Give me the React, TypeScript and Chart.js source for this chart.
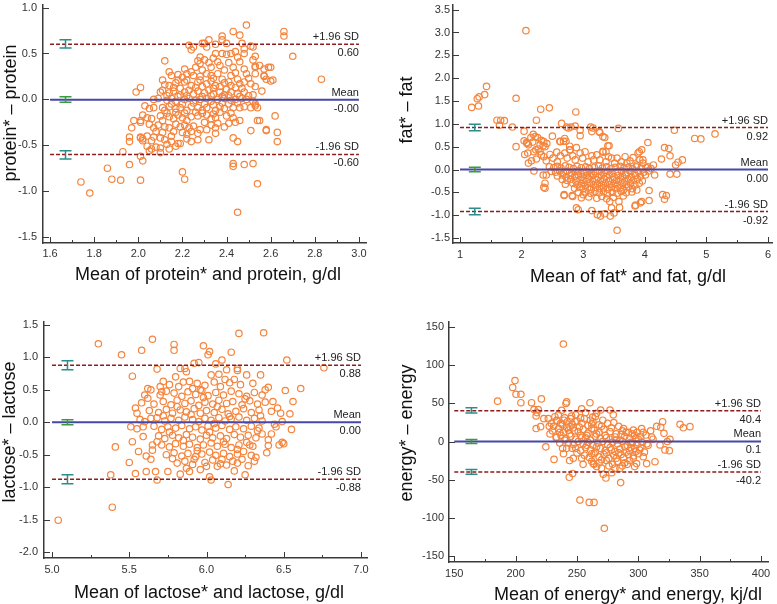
import React, { useEffect, useRef } from "react";
import { Chart, registerables } from "chart.js";

Chart.register(...registerables);

type Pt = [number, number];

// ---------------- DATA ----------------
const proteinPoints: Pt[] = [
  [1.74,-0.90],[1.78,-1.02],[1.86,-0.75],[1.88,-0.87],[1.92,-0.88],[1.93,-0.57],[1.96,-0.71],[1.96,-0.41],[1.96,-0.46],[1.97,-0.31],
  [1.98,-0.23],[1.99,0.08],[2.01,0.13],[2.01,-0.88],[2.01,-0.62],[2.02,-0.67],[2.01,-0.42],[2.02,-0.43],[2.01,-0.23],[2.20,-0.79],
  [2.21,-0.87],[2.45,-1.23],[2.43,-0.70],[2.43,-0.73],[2.43,-0.42],[2.45,-0.46],[2.48,-0.71],[2.52,-0.70],[2.54,-0.92],[2.54,-0.23],
  [2.58,-0.34],[2.62,-0.18],[2.63,-0.46],[2.63,-0.36],[2.83,0.22],[2.70,0.47],[2.66,0.74],[2.66,0.69],[2.49,0.81],[2.43,0.74],
  [2.46,0.70],[2.38,0.69],[2.32,0.65],[2.29,0.61],[2.23,0.59],[2.25,0.57],[2.12,0.42],[2.59,0.35],[2.57,0.25],[2.60,0.20],
  [2.56,0.09],[2.52,0.43],[2.51,0.58],[2.53,0.35],[2.53,-0.05],[2.54,-0.09],[2.51,-0.34],
  [2.38,0.65],[2.30,0.61],[2.35,0.60],[2.24,0.54],[2.31,0.57],[2.40,0.61],[2.47,0.61],[2.48,0.55],[2.48,0.50],[2.52,0.57],
  [2.35,0.50],[2.38,0.50],[2.40,0.49],[2.42,0.50],[2.44,0.52],[2.45,0.46],[2.53,0.47],
  [2.27,0.42],[2.28,0.39],[2.30,0.43],[2.32,0.40],[2.33,0.35],[2.37,0.37],[2.41,0.40],[2.43,0.35],[2.46,0.41],[2.48,0.33],
  [2.53,0.36],[2.55,0.37],[2.57,0.33],[2.60,0.35],
  [2.14,0.30],[2.15,0.26],[2.20,0.24],[2.22,0.28],[2.24,0.30],[2.25,0.26],[2.29,0.32],[2.31,0.28],[2.33,0.26],[2.36,0.28],
  [2.39,0.32],[2.42,0.26],[2.44,0.29],[2.45,0.22],[2.49,0.28],[2.50,0.23],[2.53,0.28],[2.57,0.26],[2.58,0.22],[2.61,0.21],
  [2.11,0.21],[2.12,0.16],[2.14,0.15],[2.17,0.18],[2.18,0.21],[2.21,0.19],[2.22,0.21],[2.27,0.19],[2.28,0.21],[2.31,0.17],
  [2.33,0.20],[2.35,0.15],[2.39,0.18],[2.41,0.19],[2.42,0.15],[2.46,0.17],[2.48,0.19],[2.51,0.17],[2.53,0.14],
  [2.10,0.08],[2.11,0.10],[2.14,0.07],[2.16,0.09],[2.19,0.05],[2.21,0.08],[2.23,0.10],[2.25,0.06],[2.27,0.09],[2.30,0.07],
  [2.32,0.10],[2.34,0.06],[2.37,0.08],[2.39,0.05],[2.42,0.08],[2.45,0.06],[2.48,0.08],[2.50,0.04],[2.52,0.05],
  [2.07,0.00],[2.09,0.01],[2.13,-0.01],[2.15,0.01],[2.17,-0.02],[2.21,0.00],[2.23,0.01],[2.26,-0.01],[2.28,0.00],[2.31,0.01],
  [2.33,-0.02],[2.36,0.00],[2.39,0.01],[2.42,-0.01],[2.44,0.00],[2.47,0.01],[2.49,0.00],[2.52,-0.02],[2.53,-0.07],
  [2.03,-0.07],[2.05,-0.10],[2.07,-0.09],[2.11,-0.09],[2.12,-0.12],[2.14,-0.08],[2.17,-0.10],[2.19,-0.09],[2.22,-0.12],[2.24,-0.08],
  [2.27,-0.09],[2.29,-0.12],[2.31,-0.09],[2.35,-0.12],[2.37,-0.08],[2.39,-0.10],[2.43,-0.09],[2.46,-0.09],[2.48,-0.08],[2.51,-0.09],
  [2.02,-0.17],[2.04,-0.20],[2.06,-0.21],[2.10,-0.18],[2.11,-0.23],[2.14,-0.19],[2.16,-0.21],[2.18,-0.17],[2.20,-0.20],[2.22,-0.23],
  [2.24,-0.19],[2.27,-0.18],[2.31,-0.17],[2.33,-0.21],[2.35,-0.20],[2.40,-0.18],[2.43,-0.20],[2.46,-0.23],
  [2.01,-0.25],[2.05,-0.27],[2.07,-0.31],[2.09,-0.28],[2.12,-0.30],[2.14,-0.31],[2.17,-0.27],[2.19,-0.30],[2.21,-0.28],[2.23,-0.31],
  [2.25,-0.29],[2.28,-0.33],[2.31,-0.33],[2.35,-0.31],[2.44,-0.25],[2.55,-0.23],[2.58,-0.33],
  [2.01,-0.41],[2.02,-0.45],[2.04,-0.40],[2.06,-0.45],[2.07,-0.41],[2.10,-0.42],[2.12,-0.44],[2.15,-0.40],[2.18,-0.48],[2.22,-0.43],
  [2.22,-0.38],[2.04,-0.51],[2.06,-0.54],[2.08,-0.52],[2.10,-0.53],[2.13,-0.49],[2.14,-0.54],[2.17,-0.51],[2.19,-0.48],
  [2.16,0.13],[2.19,0.12],[2.24,0.15],[2.26,0.13],[2.29,0.14],[2.34,0.12],[2.37,0.14],[2.40,0.11],[2.44,0.13],[2.47,0.12],
  [2.13,0.04],[2.18,0.03],[2.22,0.04],[2.29,0.03],[2.33,0.04],[2.38,0.03],[2.41,0.04],[2.46,0.03],
  [2.15,-0.05],[2.20,-0.05],[2.25,-0.04],[2.30,-0.05],[2.34,-0.06],[2.38,-0.04],[2.41,-0.05],[2.45,-0.04],
  [2.13,-0.15],[2.17,-0.14],[2.21,-0.15],[2.26,-0.14],[2.29,-0.15],[2.34,-0.16],[2.37,-0.14],[2.42,-0.15],
  [2.08,-0.35],[2.11,-0.36],[2.16,-0.35],[2.20,-0.36],[2.24,-0.35],[2.27,-0.37],[2.30,-0.25],[2.36,-0.26],[2.33,-0.28],
  [2.28,0.46],[2.34,0.45],[2.36,0.41],[2.26,0.35],[2.21,0.33],[2.18,0.27],[2.38,0.22],[2.34,0.23],[2.28,0.25],
  [2.05,-0.56],[2.10,-0.58],[2.15,-0.46],[2.24,-0.46],[2.27,-0.44],[2.32,-0.44],[2.35,-0.37],[2.39,-0.30],[2.41,-0.26],
];

const fatPoints: Pt[] = [
  [2.07,3.04],[1.19,1.36],[1.30,1.39],[1.28,1.55],[1.31,1.59],[1.40,1.64],[1.43,1.82],[1.91,1.56],[2.31,1.32],[2.45,1.35],
  [2.88,1.26],[1.60,1.08],[1.66,1.08],[1.72,1.07],[1.64,0.97],[1.85,0.93],[2.24,1.08],[2.65,1.01],[2.73,0.93],[2.80,0.93],
  [3.12,0.93],[3.16,0.91],[3.57,0.90],[4.48,0.86],[4.81,0.68],[4.91,0.67],[5.14,0.78],[1.91,0.50],[2.04,0.84],[2.04,0.63],
  [2.08,0.59],[2.05,0.33],[2.10,0.36],[2.11,0.14],[2.19,0.77],[2.26,0.70],[2.20,-0.03],[2.32,0.64],[2.35,0.52],[2.36,0.61],
  [2.38,-0.30],[2.38,-0.41],[2.50,0.73],[2.62,0.62],[2.68,0.62],[2.70,0.68],[2.69,-0.57],[2.82,-0.57],[2.95,0.74],[2.97,-0.62],
  [2.89,-0.84],[2.92,-0.88],[3.14,-0.90],[3.28,-1.02],[3.26,0.83],[3.32,0.72],[3.40,0.52],[3.43,-0.70],[3.44,-1.02],[3.50,-0.95],
  [3.55,-1.33],[3.58,-0.70],[3.89,0.36],[3.95,0.43],[3.97,0.21],[4.05,0.59],[3.85,-0.78],[3.93,-0.73],[4.07,-0.46],[4.07,-0.68],
  [4.16,-0.12],[4.27,0.23],[4.32,0.48],[4.39,0.46],[4.41,0.30],[4.41,-0.10],[4.32,-0.65],[4.35,-0.57],[4.50,0.10],[4.52,-0.10],
  [4.54,0.16],[4.61,0.21],
  [2.09,0.57],[2.15,0.70],[2.22,0.72],[2.11,0.54],[2.18,0.60],[2.20,0.39],[2.27,0.45],[2.30,0.54],[2.32,0.32],[2.38,0.50],
  [2.41,0.57],[2.16,0.19],[2.24,0.23],[2.23,0.43],[2.30,0.39],[2.35,-0.12],[2.40,-0.12],[2.36,-0.39],
  [2.36,0.28],[2.40,0.19],[2.46,0.33],[2.51,0.25],[2.57,0.38],[2.58,0.17],[2.63,0.30],[2.70,0.36],[2.74,0.25],[2.78,0.43],
  [2.83,0.30],[2.89,0.48],[2.87,0.21],[2.95,0.36],[2.99,0.25],[3.03,0.39],[3.08,0.17],[3.14,0.30],[3.17,0.21],[3.22,0.32],
  [3.27,0.21],[3.32,0.38],[3.37,0.17],[3.41,0.28],[3.46,0.25],[3.51,0.14],[3.55,0.25],[3.62,0.17],[3.68,0.28],[3.71,0.14],
  [3.76,0.19],[3.81,0.26],[3.87,0.10],[3.92,0.21],[3.97,0.14],[4.05,0.06],[4.14,0.10],
  [2.76,0.91],[2.87,0.95],[2.95,0.86],[2.63,0.61],[2.72,0.62],[2.78,0.51],[2.79,0.43],[3.14,0.83],[3.27,0.81],[3.35,0.70],
  [3.42,0.52],[3.32,0.40],[3.37,0.39],[3.91,0.39],[4.29,-0.55],[2.69,-0.55],[2.83,-0.59],[3.00,-0.55],[3.23,-0.99],[3.35,-0.97],
  [3.46,-0.84],[3.59,-0.83],[3.84,-0.80],[3.95,-0.70],
  [2.45,0.06],[2.52,0.04],[2.58,0.07],[2.64,0.03],[2.71,0.08],[2.77,0.05],[2.84,0.02],[2.90,0.07],[2.97,0.04],[3.04,0.06],
  [3.10,0.02],[3.18,0.05],[3.25,0.08],[3.31,0.03],[3.38,0.06],[3.45,0.02],[3.52,0.05],[3.60,0.07],[3.66,0.03],[3.73,0.05],
  [3.80,0.02],[3.86,0.06],[3.94,0.03],[4.02,0.04],[4.10,0.02],
  [2.48,-0.04],[2.55,-0.06],[2.62,-0.03],[2.68,-0.07],[2.74,-0.04],[2.81,-0.08],[2.87,-0.05],[2.93,-0.03],[3.00,-0.07],[3.06,-0.04],
  [3.13,-0.08],[3.20,-0.05],[3.27,-0.03],[3.34,-0.07],[3.40,-0.04],[3.47,-0.08],[3.55,-0.05],[3.62,-0.03],[3.69,-0.07],[3.76,-0.04],
  [3.83,-0.08],[3.90,-0.05],[3.98,-0.06],[4.06,-0.03],
  [2.58,-0.14],[2.66,-0.12],[2.72,-0.16],[2.79,-0.13],[2.86,-0.15],[2.92,-0.12],[2.98,-0.16],[3.05,-0.13],[3.11,-0.15],[3.17,-0.12],
  [3.24,-0.17],[3.30,-0.13],[3.37,-0.15],[3.43,-0.12],[3.50,-0.16],[3.57,-0.13],[3.64,-0.15],[3.70,-0.12],[3.78,-0.16],[3.85,-0.13],
  [3.93,-0.15],[4.01,-0.12],
  [2.66,-0.22],[2.74,-0.24],[2.80,-0.21],[2.88,-0.25],[2.95,-0.22],[3.01,-0.24],[3.08,-0.21],[3.15,-0.25],[3.21,-0.22],[3.28,-0.24],
  [3.34,-0.21],[3.41,-0.25],[3.48,-0.22],[3.54,-0.24],[3.61,-0.21],[3.67,-0.25],[3.74,-0.22],[3.81,-0.24],[3.88,-0.21],[3.96,-0.25],
  [2.71,-0.32],[2.83,-0.30],[2.90,-0.33],[2.97,-0.31],[3.03,-0.34],[3.10,-0.30],[3.17,-0.33],[3.23,-0.31],[3.30,-0.34],[3.36,-0.30],
  [3.43,-0.33],[3.50,-0.31],[3.56,-0.34],[3.63,-0.30],[3.70,-0.33],[3.77,-0.31],[3.84,-0.34],[3.91,-0.30],
  [2.86,-0.41],[2.94,-0.39],[3.00,-0.42],[3.07,-0.40],[3.13,-0.43],[3.20,-0.39],[3.27,-0.42],[3.33,-0.40],[3.40,-0.43],[3.46,-0.39],
  [3.53,-0.42],[3.60,-0.40],[3.66,-0.44],[3.73,-0.39],[3.80,-0.42],[3.87,-0.45],
  [2.92,-0.50],[3.04,-0.49],[3.12,-0.52],[3.19,-0.48],[3.26,-0.51],[3.33,-0.49],[3.39,-0.53],[3.47,-0.50],[3.55,-0.52],[3.62,-0.48],
  [3.70,-0.51],[3.79,-0.49],[3.09,-0.60],[3.22,-0.63],[3.30,-0.59],[3.38,-0.64],[3.49,-0.61],[3.65,-0.58],
];

const lactosePoints: Pt[] = [
  [5.04,-1.51],[5.39,-1.31],[5.41,-0.38],[5.38,-0.81],[5.30,1.21],[5.45,1.04],[5.58,1.11],[5.65,1.28],[5.52,0.71],[5.50,-0.62],
  [5.52,-0.30],[5.51,-0.07],[5.54,0.22],[5.55,0.14],[5.54,-0.79],[5.60,0.42],[5.62,0.52],[5.64,0.50],[5.62,0.37],[5.59,-0.07],
  [5.60,0.01],[5.59,-0.22],[5.61,-0.76],[5.67,-0.76],[5.61,-0.52],[5.64,-0.57],[5.68,0.82],[5.79,1.20],[5.79,1.11],[5.65,-0.35],
  [5.65,-0.43],[5.68,-0.89],[5.75,-0.76],[5.72,0.63],[5.71,0.47],[5.83,0.83],[5.86,0.83],[5.92,0.91],[5.95,0.92],[5.98,1.18],
  [6.02,1.09],[6.01,1.04],[6.16,1.08],[6.21,1.37],[6.37,1.38],[6.52,0.96],[6.76,0.84],[6.61,0.52],[6.56,0.32],[6.51,0.49],
  [6.54,0.13],[6.48,0.14],[6.49,0.01],[6.55,-0.11],[6.47,-0.35],[6.49,-0.31],[6.50,-0.33],[6.45,-0.07],[6.44,-0.03],[6.40,-0.27],
  [6.40,-0.36],[6.39,-0.47],[6.25,-0.81],[6.32,-0.54],[6.14,-0.96],[6.03,-0.89],[6.02,-0.84],[5.89,-0.76],[5.87,-0.71],[5.96,-0.73],
  [6.07,-0.68],[6.13,-0.66],[6.20,-0.63],[6.27,-0.67],[6.20,0.83],[6.20,0.80],[6.26,0.73],[6.35,0.73],[6.38,0.50],[6.40,0.54],
  [6.06,0.90],[6.10,0.96],[6.13,0.81],[5.89,0.63],[5.91,0.52],
  [5.76,0.58],[5.82,0.55],[5.94,0.60],[5.99,0.57],[6.05,0.62],[6.09,0.55],[6.15,0.61],[6.22,0.58],[6.30,0.60],[6.18,0.66],
  [6.03,0.73],[5.80,0.70],[5.87,0.78],[6.08,0.74],
  [5.70,0.42],[5.74,0.48],[5.79,0.45],[5.84,0.40],[5.88,0.47],[5.93,0.43],[5.97,0.49],[6.01,0.41],[6.06,0.46],[6.11,0.42],
  [6.16,0.48],[6.21,0.44],[6.26,0.40],[6.31,0.46],[6.36,0.42],
  [5.66,0.28],[5.72,0.32],[5.77,0.27],[5.81,0.34],[5.86,0.29],[5.90,0.33],[5.95,0.26],[5.99,0.31],[6.04,0.28],[6.08,0.34],
  [6.13,0.29],[6.17,0.32],[6.23,0.27],[6.28,0.33],[6.33,0.28],[6.38,0.31],
  [5.63,0.18],[5.69,0.15],[5.74,0.20],[5.78,0.14],[5.83,0.19],[5.87,0.16],[5.92,0.21],[5.96,0.14],[6.00,0.18],[6.05,0.15],
  [6.10,0.20],[6.14,0.13],[6.19,0.17],[6.24,0.21],[6.29,0.15],[6.34,0.19],[6.42,0.17],
  [5.57,0.04],[5.68,0.07],[5.73,0.02],[5.77,0.06],[5.82,0.03],[5.86,0.08],[5.91,0.04],[5.95,0.01],[5.99,0.06],[6.03,0.03],
  [6.08,0.07],[6.12,0.02],[6.16,0.05],[6.21,0.08],[6.26,0.03],[6.31,0.06],[6.36,0.02],
  [5.55,-0.10],[5.66,-0.06],[5.71,-0.11],[5.75,-0.07],[5.80,-0.09],[5.84,-0.05],[5.89,-0.10],[5.93,-0.07],[5.97,-0.12],[6.01,-0.06],
  [6.06,-0.09],[6.10,-0.05],[6.15,-0.11],[6.19,-0.07],[6.24,-0.10],[6.29,-0.06],[6.34,-0.09],
  [5.69,-0.21],[5.73,-0.25],[5.78,-0.20],[5.82,-0.24],[5.87,-0.19],[5.91,-0.23],[5.96,-0.26],[6.00,-0.20],[6.04,-0.24],[6.09,-0.21],
  [6.13,-0.25],[6.18,-0.19],[6.22,-0.23],[6.27,-0.20],[6.32,-0.24],[6.36,-0.18],
  [5.71,-0.35],[5.76,-0.38],[5.80,-0.33],[5.85,-0.37],[5.89,-0.34],[5.94,-0.39],[5.98,-0.35],[6.03,-0.32],[6.07,-0.37],[6.12,-0.34],
  [6.16,-0.39],[6.21,-0.35],[6.26,-0.31],[6.30,-0.37],
  [5.74,-0.50],[5.79,-0.47],[5.84,-0.52],[5.88,-0.48],[5.93,-0.53],[5.97,-0.49],[6.02,-0.46],[6.06,-0.51],[6.11,-0.48],[6.15,-0.53],
  [6.20,-0.49],[6.24,-0.45],[6.29,-0.51],
  [5.81,-0.63],[5.86,-0.60],[5.91,-0.65],[5.99,-0.62],[6.04,-0.58],[6.09,-0.64],[6.17,-0.60],[6.23,-0.57],
  [5.72,0.10],[5.76,-0.15],[5.81,0.24],[5.85,-0.28],[5.90,0.12],[5.94,-0.44],[5.98,0.38],[6.02,-0.15],[6.07,0.24],[6.11,-0.30],
  [6.15,0.09],[6.20,-0.42],[6.25,0.36],[6.05,-0.02],[5.96,0.50],[5.85,0.62],[6.12,0.66],[5.78,-0.56],[6.00,-0.68],[6.10,-0.57],
  [5.92,-0.57],[6.28,-0.35],[6.33,-0.13],[6.35,0.10],[5.68,-0.30],[5.64,0.06],[5.70,0.55],[6.42,-0.18],[6.43,0.32],[5.58,0.30],
  [5.56,-0.45],[6.46,0.22],[6.31,-0.60],[5.83,-0.80],[6.18,-0.75],
];

const energyPoints: Pt[] = [
  [238.9,128],[199.5,80],[197.6,71],[200.3,62],[204.3,62],[204.3,51],[185.3,53],[213,51],[221,56],[215,42],
  [218.5,42],[216.7,33.5],[217.3,38],[216.7,17],[220.4,19.5],[223,30],[224.6,-7],[226.6,30],[227.4,20],[231.3,-23.5],
  [232,32.6],[233.4,28],[234.8,35],[233.4,6],[237.5,41],[236.7,24],[239.4,28],[241,50],[241.6,52],[241.6,18.6],
  [238.3,-9],[241.6,-9],[243.7,-47],[246.5,-42],[247,-22],[244.3,19.5],[245.6,33.5],[248.4,26],[252.4,-77],[253.8,-22],
  [260,-80],[263.9,-80],[260.6,51],[253.8,43],[266,37],[269.3,41.4],[262.8,32],[262,23],[263.3,-29],[263.9,-30],
  [271.5,-43],[273.6,-48],[272.3,-114],[276.9,41.4],[279.6,35],[278.3,-41],[285,-35],[285.6,-54],[306.8,-29],[306.2,8.5],
  [313.6,-26.5],[317.7,-4.6],[318.3,18.6],[319.8,26],[315,20],[320.9,10.7],[321.7,-11],[325.3,-12],[323.6,0],[325.8,2.8],
  [334,22.6],[336.7,18],[342.1,19.5],[301.9,7],[302.7,17],[310.9,6],[295.9,-22],[298.6,-29],
  [229,24],[234,27],[238,22],[242,26],[246,23],[250,27],[254,24],[259,21],[263,26],[268,22],
  [230,14],[235,17],[239,12],[243,15],[247,18],[251,13],[255,16],[259,11],[264,15],[268,12],[272,16],[277,13],[282,10],[287,14],
  [233,5],[237,8],[241,4],[245,7],[249,3],[253,8],[257,5],[261,2],[265,7],[269,4],[273,8],[277,3],[281,6],[285,2],[289,7],[293,4],[297,8],[300,3],
  [243,-2],[247,-4],[251,0],[255,-3],[259,-1],[263,-5],[267,-2],[271,0],[275,-4],[279,-1],[283,-3],[287,0],[291,-5],[295,-2],[299,-4],[303,-1],
  [249,-9],[253,-12],[257,-8],[261,-11],[265,-14],[269,-9],[273,-12],[277,-8],[281,-13],[285,-10],[289,-7],[293,-12],[297,-9],[301,-11],[305,-14],
  [256,-18],[260,-21],[264,-16],[268,-20],[272,-17],[276,-22],[280,-18],[284,-15],[288,-21],[292,-17],[296,-19],[300,-16],
  [262,-26],[268,-28],[274,-25],[279,-30],[283,-26],[289,-28],[293,-25],
  [308,-5],[312,3],[304,12],[310,14],[299,12],[295,10],
  [228,10],[231,20],[236,12],[240,31],[244,10],[248,14],[252,19],[256,30],[258,8],[262,17],[266,10],[270,20],[274,5],[278,18],
  [282,2],[286,9],[290,12],[294,-1],[298,5],[302,-8],
  [236,-2],[240,2],[246,-9],[250,-15],[254,5],[258,-5],[262,-16],[266,-7],[270,-24],[274,-15],[278,-11],[282,-22],[286,-17],
  [290,-14],[294,-8],[298,-13],[304,-20],[307,-3],
  [245,30],[249,35],[253,31],[257,38],[261,28],[265,33],[271,28],[275,24],[280,25],[284,20],[288,17],[292,12],[296,15],
  [239,-16],[244,-25],[255,-30],[266,-33],[270,-35],[276,-32],[281,-35],[287,-32],[291,-30],[297,-33],
];

// limits: +1.96 SD, mean, -1.96 SD
const proteinLimits = [0.60, -0.003, -0.60];
const proteinLimitText = ["0.60", "-0.00", "-0.60"];
const proteinCI = [[0.56, 0.65], [-0.03, 0.03], [-0.65, -0.56]];
const proteinCIx = 1.67;
const proteinXTicks = [1.6, 1.8, 2.0, 2.2, 2.4, 2.6, 2.8, 3.0];
const proteinXMinor = [1.7, 1.9, 2.1, 2.3, 2.5, 2.7, 2.9];
const proteinYTicks = [1.0, 0.5, 0.0, -0.5, -1.0, -1.5];

const fatLimits = [0.92, 0.0, -0.92];
const fatLimitText = ["0.92", "0.00", "-0.92"];
const fatCI = [[0.85, 0.99], [-0.05, 0.05], [-0.99, -0.85]];
const fatCIx = 1.24;
const fatXTicks = [1, 2, 3, 4, 5, 6];
const fatXMinor = [1.5, 2.5, 3.5, 4.5, 5.5];
const fatYTicks = [3.5, 3.0, 2.5, 2.0, 1.5, 1.0, 0.5, 0.0, -0.5, -1.0, -1.5];

const lactoseLimits = [0.88, 0.0, -0.88];
const lactoseLimitText = ["0.88", "0.00", "-0.88"];
const lactoseCI = [[0.81, 0.95], [-0.04, 0.04], [-0.95, -0.81]];
const lactoseCIx = 5.1;
const lactoseXTicks = [5.0, 5.5, 6.0, 6.5, 7.0];
const lactoseXMinor = [5.25, 5.75, 6.25, 6.75];
const lactoseYTicks = [1.5, 1.0, 0.5, 0.0, -0.5, -1.0, -1.5, -2.0];

const energyLimits = [40.4, 0.1, -40.2];
const energyLimitText = ["40.4", "0.1", "-40.2"];
const energyCI = [[37.5, 44.5], [-2.5, 2.5], [-43.0, -36.8]];
const energyCIx = 164;
const energyXTicks = [150, 200, 250, 300, 350, 400];
const energyXMinor = [175, 225, 275, 325, 375];
const energyYTicks = [150, 100, 50, 0, -50, -100, -150];

const limitNames = ["+1.96 SD", "Mean", "-1.96 SD"];

// ---------------- STYLE ----------------
const FONT = '"Liberation Sans", Arial, Helvetica, sans-serif';
const ORANGE = "#f5843c";
const RED = "#8e1c1c";
const BLUE = "#4747a8";
const TEAL = "#2a8f8a";
const GREEN = "#3a9b3a";
const AXIS = "#3a3a3a";

interface Panel {
  key: string;
  left: number; top: number; width: number; height: number;
  points: Pt[];
  xMin: number; xMax: number; yMin: number; yMax: number;
  xTicks: number[]; xMinor: number[]; yTicks: number[];
  xDec: number; yDec: number;
  limits: number[]; limitText: string[];
  ci: number[][]; ciX: number;
  xTitle: string; yTitle: string;
  pad: { left: number; top: number; right: number; bottom: number };
  yWidth: number; xHeight: number; yTickPad: number; xTickPad: number;
  xTitlePos: [number, number]; yTitlePos: [number, number];
}

const panels: Panel[] = [
  {
    key: "protein", left: 0, top: 0, width: 390, height: 300,
    points: proteinPoints, xMin: 1.568, xMax: 3.032, yMin: -1.565, yMax: 1.035,
    xTicks: proteinXTicks, xMinor: proteinXMinor, yTicks: proteinYTicks, xDec: 1, yDec: 1,
    limits: proteinLimits, limitText: proteinLimitText, ci: proteinCI, ciX: proteinCIx,
    xTitle: "Mean of protein* and protein, g/dl", yTitle: "protein* \u2013 protein",
    pad: { left: 0, top: 3, right: 24, bottom: 0 }, yWidth: 43, xHeight: 57, yTickPad: 6, xTickPad: 4,
    xTitlePos: [208, 275], yTitlePos: [11, 113],
  },
  {
    key: "fat", left: 390, top: 0, width: 387, height: 300,
    points: fatPoints, xMin: 0.886, xMax: 6.065, yMin: -1.609, yMax: 3.615,
    xTicks: fatXTicks, xMinor: fatXMinor, yTicks: fatYTicks, xDec: 0, yDec: 1,
    limits: fatLimits, limitText: fatLimitText, ci: fatCI, ciX: fatCIx,
    xTitle: "Mean of fat* and fat, g/dl", yTitle: "fat* \u2013 fat",
    pad: { left: 0, top: 3, right: 5, bottom: 0 }, yWidth: 63, xHeight: 57, yTickPad: 3, xTickPad: 5,
    xTitlePos: [238, 277], yTitlePos: [17, 110],
  },
  {
    key: "lactose", left: 0, top: 300, width: 390, height: 304,
    points: lactosePoints, xMin: 4.948, xMax: 7.039, yMin: -2.093, yMax: 1.546,
    xTicks: lactoseXTicks, xMinor: lactoseXMinor, yTicks: lactoseYTicks, xDec: 1, yDec: 1,
    limits: lactoseLimits, limitText: lactoseLimitText, ci: lactoseCI, ciX: lactoseCIx,
    xTitle: "Mean of lactose* and lactose, g/dl", yTitle: "lactose* \u2013 lactose",
    pad: { left: 0, top: 22, right: 23, bottom: 0 }, yWidth: 44, xHeight: 46, yTickPad: 6, xTickPad: 5,
    xTitlePos: [209, 293], yTitlePos: [10, 132],
  },
  {
    key: "energy", left: 390, top: 300, width: 387, height: 304,
    points: energyPoints, xMin: 145.7, xMax: 405.7, yMin: -158.3, yMax: 157,
    xTicks: energyXTicks, xMinor: energyXMinor, yTicks: energyYTicks, xDec: 0, yDec: 0,
    limits: energyLimits, limitText: energyLimitText, ci: energyCI, ciX: energyCIx,
    xTitle: "Mean of energy* and energy, kj/dl", yTitle: "energy* \u2013 energy",
    pad: { left: 0, top: 22, right: 9, bottom: 0 }, yWidth: 59, xHeight: 42, yTickPad: 5, xTickPad: 5,
    xTitlePos: [238, 295], yTitlePos: [17, 133],
  },
];

function makePlugin(p: Panel) {
  return {
    id: "ba_" + p.key,
    afterDraw(chart: any) {
      const ctx: CanvasRenderingContext2D = chart.ctx;
      const xs = chart.scales.x;
      const ys = chart.scales.y;
      const area = chart.chartArea;
      ctx.save();
      // inward tick marks
      ctx.strokeStyle = AXIS;
      ctx.lineWidth = 1;
      ctx.beginPath();
      p.yTicks.forEach((v) => {
        const y = Math.round(ys.getPixelForValue(v)) + 0.5;
        ctx.moveTo(area.left, y);
        ctx.lineTo(area.left + 6, y);
      });
      p.xTicks.forEach((v) => {
        const x = Math.round(xs.getPixelForValue(v)) + 0.5;
        ctx.moveTo(x, area.bottom);
        ctx.lineTo(x, area.bottom - 6);
      });
      p.xMinor.forEach((v) => {
        const x = Math.round(xs.getPixelForValue(v)) + 0.5;
        ctx.moveTo(x, area.bottom);
        ctx.lineTo(x, area.bottom - 3);
      });
      ctx.stroke();

      // confidence interval bars
      const cx = xs.getPixelForValue(p.ciX);
      p.ci.forEach((c, i) => {
        const yLo = ys.getPixelForValue(c[0]);
        const yHi = ys.getPixelForValue(c[1]);
        ctx.strokeStyle = i === 1 ? GREEN : TEAL;
        ctx.lineWidth = 1.5;
        ctx.beginPath();
        ctx.moveTo(cx, yLo);
        ctx.lineTo(cx, yHi);
        ctx.moveTo(cx - 6, yLo);
        ctx.lineTo(cx + 6, yLo);
        ctx.moveTo(cx - 6, yHi);
        ctx.lineTo(cx + 6, yHi);
        ctx.stroke();
      });

      // limit labels
      const xr = xs.getPixelForValue(p.xTicks[p.xTicks.length - 1]);
      ctx.fillStyle = "#222";
      ctx.font = `11px ${FONT}`;
      ctx.textAlign = "right";
      ctx.textBaseline = "middle";
      p.limits.forEach((v, i) => {
        const y = ys.getPixelForValue(v);
        ctx.fillText(limitNames[i], xr, y - 7);
        ctx.fillText(p.limitText[i], xr, y + 9);
      });

      // axis titles
      ctx.fillStyle = "#111";
      ctx.font = `18px ${FONT}`;
      ctx.textAlign = "center";
      ctx.fillText(p.xTitle, p.xTitlePos[0], p.xTitlePos[1]);
      ctx.translate(p.yTitlePos[0], p.yTitlePos[1]);
      ctx.rotate(-Math.PI / 2);
      ctx.fillText(p.yTitle, 0, 0);
      ctx.restore();
    },
  };
}

function BAChart({ p }: { p: Panel }) {
  const ref = useRef<HTMLCanvasElement | null>(null);
  useEffect(() => {
    if (!ref.current) return;
    const x0 = p.xTicks[0];
    const x1 = p.xTicks[p.xTicks.length - 1];
    const hline = (v: number, color: string, dash: number[], w: number) => ({
      type: "line" as const,
      data: [{ x: x0, y: v }, { x: x1, y: v }],
      borderColor: color,
      borderWidth: w,
      borderDash: dash,
      pointRadius: 0,
      fill: false,
      tension: 0,
    });
    const chart = new Chart(ref.current, {
      type: "scatter",
      data: {
        datasets: [
          hline(p.limits[0], RED, [4, 2], 1.5),
          hline(p.limits[2], RED, [4, 2], 1.5),
          hline(p.limits[1], BLUE, [], 2),
          {
            type: "scatter",
            data: p.points.map(([x, y]) => ({ x, y })),
            pointRadius: 3.2,
            pointHoverRadius: 3.2,
            borderWidth: 1.2,
            pointBorderWidth: 1.2,
            borderColor: ORANGE,
            pointBorderColor: ORANGE,
            backgroundColor: "rgba(0,0,0,0)",
            pointBackgroundColor: "rgba(0,0,0,0)",
          } as any,
        ],
      },
      options: {
        animation: false,
        responsive: false,
        maintainAspectRatio: false,
        events: [],
        layout: { padding: p.pad },
        plugins: { legend: { display: false }, tooltip: { enabled: false } },
        scales: {
          x: {
            type: "linear",
            min: p.xMin,
            max: p.xMax,
            afterBuildTicks: (s: any) => {
              s.ticks = p.xTicks.map((v) => ({ value: v }));
            },
            afterFit: (s: any) => {
              s.height = p.xHeight;
              s.paddingLeft = 0;
              s.paddingRight = 0;
            },
            ticks: {
              callback: (v: any) => Number(v).toFixed(p.xDec),
              font: { size: 11, family: FONT },
              color: "#333",
              padding: p.xTickPad,
              autoSkip: false,
              maxRotation: 0,
              minRotation: 0,
            },
            grid: { display: true, drawOnChartArea: false, drawTicks: false },
            border: { display: true, color: AXIS, width: 1.5 },
          },
          y: {
            type: "linear",
            min: p.yMin,
            max: p.yMax,
            afterBuildTicks: (s: any) => {
              s.ticks = p.yTicks.map((v) => ({ value: v }));
            },
            afterFit: (s: any) => {
              s.width = p.yWidth;
              s.paddingTop = 0;
              s.paddingBottom = 0;
            },
            ticks: {
              callback: (v: any) => Number(v).toFixed(p.yDec),
              font: { size: 11, family: FONT },
              color: "#333",
              padding: p.yTickPad,
              autoSkip: false,
            },
            grid: { display: true, drawOnChartArea: false, drawTicks: false },
            border: { display: true, color: AXIS, width: 1.5 },
          },
        },
      } as any,
      plugins: [makePlugin(p)],
    });
    return () => chart.destroy();
  }, [p]);
  return (
    <canvas
      ref={ref}
      width={p.width}
      height={p.height}
      style={{ position: "absolute", left: p.left, top: p.top, width: p.width, height: p.height }}
    />
  );
}

export default function App() {
  return (
    <div style={{ position: "absolute", left: 0, top: 0, width: 777, height: 604, background: "#fff" }}>
      {panels.map((p) => (
        <BAChart key={p.key} p={p} />
      ))}
    </div>
  );
}
